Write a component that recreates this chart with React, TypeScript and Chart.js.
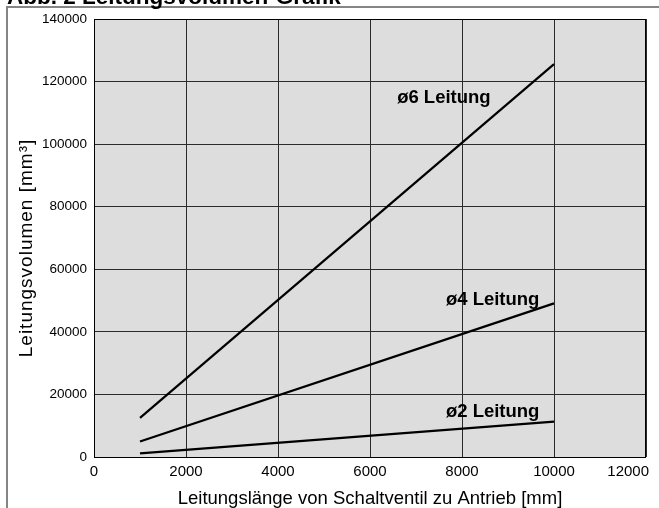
import React, { useEffect, useRef } from "react";
import { Chart, registerables } from "chart.js";

Chart.register(...registerables);

const lengthsMm = [1000, 10000];
const volumeD6 = [12500, 125600];
const volumeD4 = [4950, 49100];
const volumeD2 = [1150, 11300];
const seriesNames = ["ø6 Leitung", "ø4 Leitung", "ø2 Leitung"];
const labelAnchorX = [6590, 7650, 7650];
const labelAnchorY = [113200, 48600, 12800];
const chartTitle = "Abb. 2 Leitungsvolumen-Grafik";
const xAxisTitle = "Leitungslänge von Schaltventil zu Antrieb [mm]";
const yAxisTitle = "Leitungsvolumen [mm³]";
const xRange = [0, 12000, 2000];
const yRange = [0, 140000, 20000];

const FONT = "'Liberation Sans', Arial, Helvetica, sans-serif";

const decorPlugin = {
  id: "decor",
  beforeDraw(chart: any) {
    const { ctx, chartArea } = chart;
    ctx.save();
    ctx.fillStyle = "#dddddd";
    ctx.fillRect(chartArea.left, chartArea.top, chartArea.right - chartArea.left, chartArea.bottom - chartArea.top);
    // outer frame
    ctx.strokeStyle = "#858585";
    ctx.lineWidth = 2;
    ctx.beginPath();
    ctx.moveTo(7, 520);
    ctx.lineTo(7, 7);
    ctx.lineTo(670, 7);
    ctx.stroke();
    // title
    ctx.fillStyle = "#000";
    ctx.font = `bold 22.5px ${FONT}`;
    ctx.textBaseline = "alphabetic";
    ctx.textAlign = "left";
    ctx.fillText(chartTitle, 7, 4);
    // y axis title
    ctx.save();
    ctx.translate(27, 248);
    ctx.rotate(-Math.PI / 2);
    ctx.font = `19px ${FONT}`;
    try { (ctx as any).letterSpacing = "1px"; } catch (e) {}
    ctx.textAlign = "center";
    ctx.textBaseline = "middle";
    ctx.fillText(yAxisTitle, 0, 0);
    ctx.restore();
    ctx.restore();
  },
  afterDraw(chart: any) {
    const { ctx, chartArea } = chart;
    const xs = chart.scales.x;
    const ys = chart.scales.y;
    ctx.save();
    ctx.strokeStyle = "#000";
    ctx.lineWidth = 1;
    ctx.strokeRect(chartArea.left + 0.5, chartArea.top + 0.5, chartArea.right - chartArea.left - 1, chartArea.bottom - chartArea.top);
    // x tick labels (last one kept inside the canvas)
    ctx.fillStyle = "#000";
    ctx.font = `15px ${FONT}`;
    ctx.textBaseline = "middle";
    const n = xs.ticks.length;
    xs.ticks.forEach((t: any, i: number) => {
      const px = xs.getPixelForValue(t.value);
      const label = String(t.value);
      if (i === n - 1) {
        ctx.textAlign = "right";
        ctx.fillText(label, px + 3, chartArea.bottom + 15);
      } else {
        ctx.textAlign = "center";
        ctx.fillText(label, px, chartArea.bottom + 15);
      }
    });
    // series labels
    ctx.font = `bold 18.5px ${FONT}`;
    ctx.textAlign = "left";
    ctx.textBaseline = "alphabetic";
    seriesNames.forEach((name, i) => {
      ctx.fillText(name, xs.getPixelForValue(labelAnchorX[i]), ys.getPixelForValue(labelAnchorY[i]));
    });
    ctx.restore();
  },
};

export default function App() {
  const ref = useRef<HTMLCanvasElement | null>(null);
  useEffect(() => {
    if (!ref.current) return;
    const mk = (vals: number[]) => lengthsMm.map((x, i) => ({ x, y: vals[i] }));
    const ds = (vals: number[], label: string) => ({
      label,
      data: mk(vals),
      borderColor: "#000",
      borderWidth: 2.2,
      pointRadius: 0,
      fill: false,
      tension: 0,
    });
    const chart = new Chart(ref.current, {
      type: "line",
      data: {
        datasets: [ds(volumeD6, seriesNames[0]), ds(volumeD4, seriesNames[1]), ds(volumeD2, seriesNames[2])],
      },
      plugins: [decorPlugin],
      options: {
        animation: false,
        responsive: false,
        maintainAspectRatio: false,
        layout: { padding: { top: 19, right: 13, left: 0, bottom: 0 } },
        plugins: { legend: { display: false }, tooltip: { enabled: false }, title: { display: false } },
        scales: {
          x: {
            type: "linear",
            min: xRange[0],
            max: xRange[1],
            afterFit: (s: any) => { s.height = 51; s.paddingLeft = 0; s.paddingRight = 0; },
            ticks: {
              stepSize: xRange[2],
              display: false,
              callback: (v: any) => String(v),
            },
            grid: { color: "#2a2a2a", lineWidth: 1, drawTicks: false },
            border: { display: false },
            title: {
              display: true,
              text: xAxisTitle,
              color: "#000",
              font: { family: FONT, size: 18.5, lineHeight: 1 },
              padding: { top: 0, bottom: 0 },
            },
          },
          y: {
            type: "linear",
            min: yRange[0],
            max: yRange[1],
            afterFit: (s: any) => { s.width = 94; s.paddingTop = 0; s.paddingBottom = 0; },
            ticks: {
              stepSize: yRange[2],
              color: "#000",
              padding: 7,
              font: { family: FONT, size: 13.5 },
              callback: (v: any) => String(v),
            },
            grid: { color: "#2a2a2a", lineWidth: 1, drawTicks: false },
            border: { display: false },
            title: { display: false },
          },
        },
      },
    });
    return () => chart.destroy();
  }, []);
  return (
    <canvas
      ref={ref}
      width={659}
      height={508}
      style={{ position: "absolute", left: 0, top: 0, width: 659, height: 508, display: "block" }}
    />
  );
}
